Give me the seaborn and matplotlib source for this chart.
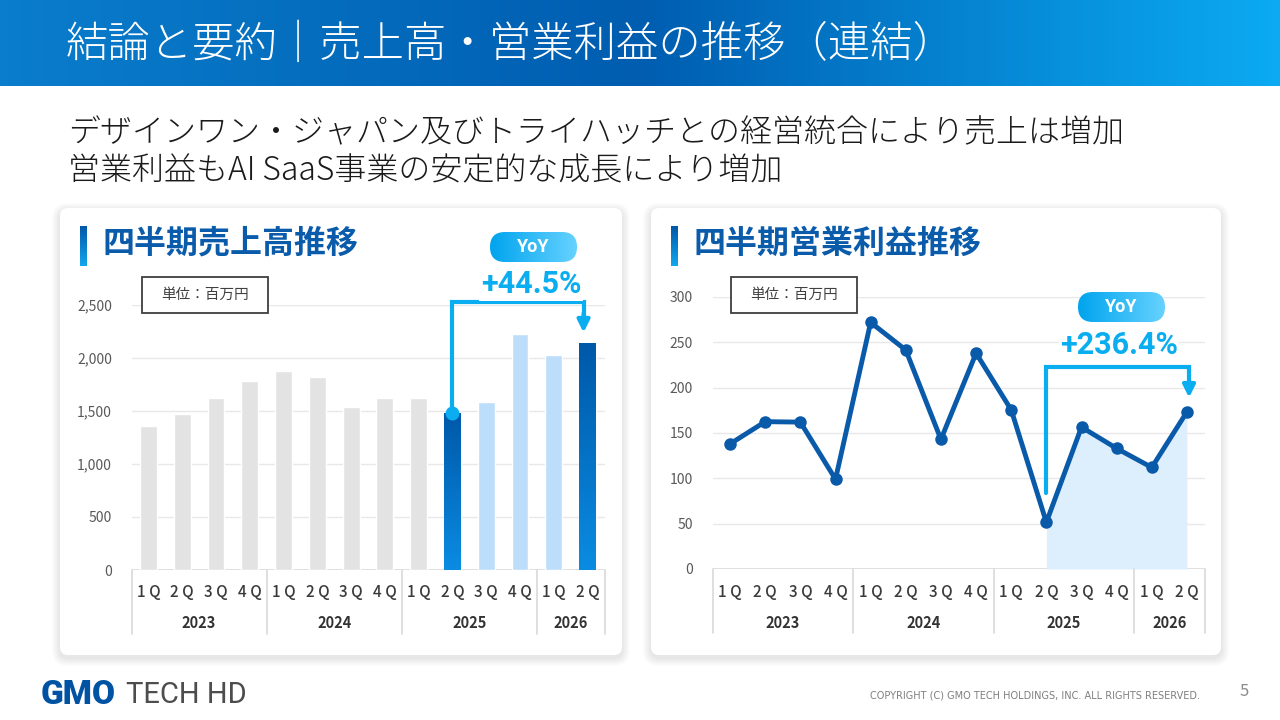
import numpy as np
import pandas as pd
import seaborn as sns
import matplotlib.pyplot as plt
from matplotlib.patches import FancyBboxPatch, Rectangle
from matplotlib.colors import LinearSegmentedColormap

# chart data
years = ['2023', '2024', '2025', '2026']
year_quarters = [4, 4, 4, 2]
quarters = ['1Q', '2Q', '3Q', '4Q', '1Q', '2Q', '3Q', '4Q', '1Q', '2Q', '3Q', '4Q', '1Q', '2Q']
sales = [1362, 1475, 1620, 1783, 1874, 1818, 1541, 1623, 1620, 1482, 1585, 2227, 2029, 2142]
profit = [138, 162.5, 162, 99, 272, 241.5, 143, 238, 175.5, 51.5, 156.5, 133, 112, 173.3]
bar_kind = ['past'] * 9 + ['base', 'new', 'new', 'new', 'now']
sales_ticks = [0, 500, 1000, 1500, 2000, 2500]
profit_ticks = [0, 50, 100, 150, 200, 250, 300]
sales_yoy = '+44.5%'
profit_yoy = '+236.4%'

title = '結論と要約｜売上高・営業利益の推移（連結）'
subtitle = ['デザインワン・ジャパン及びトライハッチとの経営統合により売上は増加',
            '営業利益もAI SaaS事業の安定的な成長により増加']
card_titles = ['四半期売上高推移', '四半期営業利益推移']
unit_label = '単位：百万円'

sns.set_style('white')
plt.rcParams['font.family'] = ['Noto Sans CJK JP', 'DejaVu Sans']

W, H = 1280, 720
fig = plt.figure(figsize=(12.8, 7.2), dpi=100)
fig.patch.set_facecolor('white')


def pixel_axes(z):
    a = fig.add_axes([0, 0, 1, 1], zorder=z)
    a.set_xlim(0, W)
    a.set_ylim(H, 0)
    a.patch.set_alpha(0)
    a.axis('off')
    return a


# background layer and overlay layer in pixel coordinates
bg = pixel_axes(0)
top = pixel_axes(3)


def grad_rect(ax, x0, x1, y0, y1, colors, vertical=False, clip=None):
    cmap = LinearSegmentedColormap.from_list('g', colors)
    g = np.linspace(0, 1, 256)
    arr = g[:, None] if vertical else g[None, :]
    im = ax.imshow(arr, cmap=cmap, extent=[x0, x1, y1, y0], origin='upper',
                   aspect='auto', interpolation='bilinear', zorder=2)
    if clip is not None:
        im.set_clip_path(clip)
    ax.set_xlim(0, W)
    ax.set_ylim(H, 0)
    return im


# header band
grad_rect(bg, 0, W, 0, 86, [(0, '#0A7DCC'), (0.5, '#005DB0'), (1, '#0BAAF2')])
bg.text(66, 45, title, color='white', fontsize=30.5, va='center', ha='left',
        fontweight='light')

for i, line in enumerate(subtitle):
    bg.text(68, 133 + i * 38, line, color='#1A1A1A', fontsize=23, va='center',
            fontweight='light')

# cards with soft shadow
cards = [(60, 208, 562, 447), (651, 208, 570, 447)]
for n, (cx, cy, cw, ch) in enumerate(cards):
    for k in range(8, 0, -1):
        sh = FancyBboxPatch((cx - k, cy - k + 3), cw + 2 * k, ch + 2 * k,
                            boxstyle='round,pad=0,rounding_size=%d' % (8 + k),
                            fc='#000000', ec='none', alpha=0.012, zorder=1)
        bg.add_patch(sh)
    bg.add_patch(FancyBboxPatch((cx, cy), cw, ch, boxstyle='round,pad=0,rounding_size=8',
                                fc='white', ec='none', zorder=1.5))
    grad_rect(bg, cx + 20, cx + 27, 226, 266, ['#0058A8', '#13A6EE'], vertical=True)
    bg.text(cx + 42, 244, card_titles[n], color='#0A5BAA',
            fontsize=23, fontweight='bold', va='center')

# unit boxes
for (ux, uy) in [(142, 277), (731, 277)]:
    top.add_patch(Rectangle((ux, uy), 126, 36, fc='white', ec='#3F3F3F', lw=1.3, zorder=3))
    top.text(ux + 63, uy + 18, unit_label, color='#404040', fontsize=10.5,
             ha='center', va='center', zorder=4)

# YoY pills
for (px, py, tx, ty, txt) in [(490, 232, 531, 284, sales_yoy), (1078, 292, 1119, 345, profit_yoy)]:
    pill = FancyBboxPatch((px, py), 87, 30, boxstyle='round,pad=0,rounding_size=15',
                          fc='white', ec='none', zorder=2)
    top.add_patch(pill)
    grad_rect(top, px, px + 87, py, py + 30, ['#00A4EE', '#66D2FF'], clip=pill)
    top.text(px + 43.5, py + 15, 'YoY', color='white', fontsize=13, fontweight='bold',
             ha='center', va='center', zorder=4, family=['Roboto', 'DejaVu Sans'])
    top.text(tx, ty, txt, color='#0AAEF0', fontsize=22, fontweight='bold',
             ha='center', va='center', zorder=4, family=['Roboto', 'DejaVu Sans'],
             bbox=dict(fc='white', ec='none', pad=1))

# footer
bg.text(41, 695, 'GMO', color='#0052A3', fontsize=24, fontweight='heavy', va='center',
        family=['Roboto', 'DejaVu Sans'])
bg.text(126, 695, 'TECH HD', color='#4D4D4D', fontsize=21, va='center',
        family=['DejaVu Sans Condensed', 'Liberation Sans Narrow', 'Roboto', 'DejaVu Sans'])
bg.text(1200, 695, 'COPYRIGHT (C) GMO TECH HOLDINGS, INC. ALL RIGHTS RESERVED.',
        color='#7F7F7F', fontsize=7, ha='right', va='center', family=['DejaVu Sans'])
bg.text(1244, 692, '5', color='#8C8C8C', fontsize=12, ha='center', va='center')


def add_ax(x0, x1, ytop, ybot):
    ax = fig.add_axes([x0 / W, 1 - ybot / H, (x1 - x0) / W, (ybot - ytop) / H], zorder=2)
    ax.patch.set_alpha(0)
    return ax


def style_axis(ax, ticks, height_px, q_off, y_off, line_off):
    ax.set_ylim(ticks[0], ticks[-1])
    ax.set_xlim(-0.5, len(quarters) - 0.5)
    ax.set_yticks(ticks)
    ax.set_yticklabels([f'{t:,}' for t in ticks], color='#595959', fontsize=10)
    ax.tick_params(axis='y', length=0, pad=14)
    ax.set_xticks([])
    ax.set_xlabel('')
    ax.set_ylabel('')
    for s in ax.spines.values():
        s.set_visible(False)
    ax.yaxis.grid(True, color='#E8E8E8', lw=1)
    ax.set_axisbelow(True)
    ax.axhline(0, color='#D9D9D9', lw=1.2, zorder=0.5)
    tr = ax.get_xaxis_transform()
    for i, q in enumerate(quarters):
        ax.text(i, -q_off / height_px, q[0] + ' ' + q[1], transform=tr, ha='center',
                va='center', fontsize=11, color='#3A3A3A', fontweight='medium')
    edges = np.concatenate([[0], np.cumsum(year_quarters)]) - 0.5
    for e in edges:
        ax.plot([e, e], [0, -line_off / height_px], transform=tr, color='#D9D9D9',
                lw=1.2, clip_on=False)
    for y, a, b in zip(years, edges[:-1], edges[1:]):
        ax.text((a + b) / 2, -y_off / height_px, y, transform=tr, ha='center',
                va='center', fontsize=10.5, color='#333333', fontweight='bold')


bracket_color = '#0AAEF0'

# left: sales bars
ax1 = add_ax(131.5, 604.5, 305, 570)
df_sales = pd.DataFrame({'q': [f'{i}' for i in range(len(sales))], 'sales': sales, 'kind': bar_kind})
palette = {'past': '#E3E3E3', 'base': '#0062B4', 'new': '#BDDEFB', 'now': '#0062B4'}
sns.barplot(data=df_sales, x='q', y='sales', hue='kind', palette=palette, dodge=False,
            legend=False, width=0.5, saturation=1, ax=ax1)
style_axis(ax1, sales_ticks, 265, 22, 53, 64)
bars = sorted(ax1.patches, key=lambda p: p.get_x())
for i, bar in enumerate(bars):
    if bar_kind[i] in ('base', 'now'):
        x0, w, h = bar.get_x(), bar.get_width(), bar.get_height()
        im = ax1.imshow(np.linspace(0, 1, 256)[:, None],
                        cmap=LinearSegmentedColormap.from_list('b', ['#0A8CE2', '#0058A8']),
                        extent=[x0, x0 + w, 0, h], origin='lower', aspect='auto', zorder=3)
        im.set_clip_path(bar)
ax1.set_xlim(-0.5, len(sales) - 0.5)
ax1.set_ylim(sales_ticks[0], sales_ticks[-1])

base_i, last_i = bar_kind.index('base'), len(sales) - 1
ax1.plot([base_i, base_i, last_i - 0.12, last_i - 0.12], [sales[base_i], 2531, 2531, 2400],
         color=bracket_color, lw=3, clip_on=False, zorder=5, solid_joinstyle='miter')
ax1.plot([base_i], [sales[base_i]], 'o', color=bracket_color, ms=9, clip_on=False, zorder=6)
ax1.annotate('', xy=(last_i - 0.12, 2240), xytext=(last_i - 0.12, 2420),
             arrowprops=dict(arrowstyle='-|>', color=bracket_color, lw=3, mutation_scale=18,
                             shrinkA=0, shrinkB=0), annotation_clip=False, zorder=6)

# right: operating profit line
ax2 = add_ax(712.5, 1204.5, 297, 569)
xs = np.arange(len(profit))
base_j = bar_kind.index('base')
ax2.fill_between(xs[base_j:], profit[base_j:], color='#DDEEFC', lw=0, zorder=1)
sns.lineplot(x=xs, y=profit, color='#0A5AAA', lw=3.5, marker='o', markersize=9,
             markeredgewidth=0, ax=ax2, zorder=3)
style_axis(ax2, profit_ticks, 272, 23, 54, 64)

ax2.plot([base_j, base_j, last_i + 0.06, last_i + 0.06], [84, 222.8, 222.8, 205],
         color=bracket_color, lw=3, clip_on=False, zorder=5, solid_joinstyle='miter')
ax2.annotate('', xy=(last_i + 0.06, 189), xytext=(last_i + 0.06, 208),
             arrowprops=dict(arrowstyle='-|>', color=bracket_color, lw=3, mutation_scale=18,
                             shrinkA=0, shrinkB=0), annotation_clip=False, zorder=6)

fig.savefig('out.png', dpi=100, facecolor='white')
